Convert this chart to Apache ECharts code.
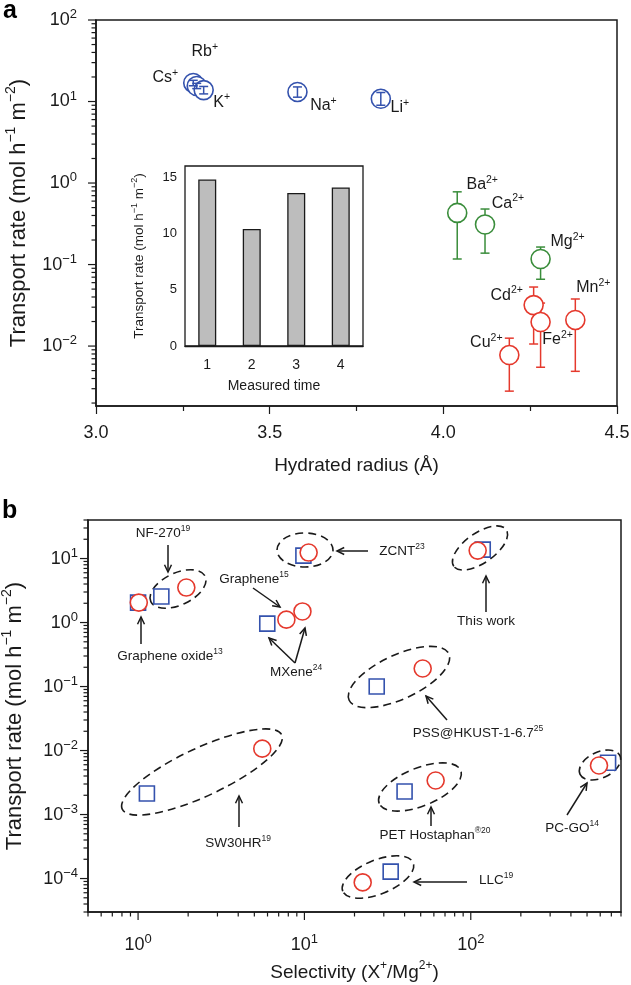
<!DOCTYPE html>
<html>
<head>
<meta charset="utf-8">
<script src="https://cdn.jsdelivr.net/npm/echarts@6.0.0/dist/echarts.min.js"></script>
<style>html,body{margin:0;padding:0;background:#fff}#c{width:631px;height:985px}</style>
</head>
<body>
<div id="c"></div>
<script>
// ================= DATA =================
// Panel a: hydrated radius (Å) vs transport rate (mol h-1 m-2)
const monoIons   = ['Cs', 'Rb', 'K', 'Na', 'Li'];
const monoRadius = [3.28, 3.29, 3.31, 3.58, 3.82];
const monoRate   = [16.9, 15.5, 13.8, 13.1, 10.8];
const monoLow    = [15.6, 14.4, 12.4, 11.3, 9.0];
const monoHigh   = [18.2, 16.7, 15.3, 15.1, 12.9];

const alkEarthIons   = ['Ba', 'Ca', 'Mg'];
const alkEarthRadius = [4.04, 4.12, 4.28];
const alkEarthRate   = [0.43, 0.31, 0.117];
const alkEarthLow    = [0.117, 0.138, 0.066];
const alkEarthHigh   = [0.78, 0.48, 0.164];

const transIons   = ['Cd', 'Fe', 'Mn', 'Cu'];
const transRadius = [4.26, 4.28, 4.38, 4.19];
const transRate   = [0.0318, 0.0197, 0.0209, 0.00776];
const transLow    = [0.0106, 0.0055, 0.0049, 0.0028];
const transHigh   = [0.053, 0.0337, 0.0378, 0.0125];

// Inset of panel a
const measuredTimes = ['1', '2', '3', '4'];
const insetRates    = [14.8, 10.4, 13.6, 14.1];

// Panel b: selectivity (X+/Mg2+) vs transport rate
const squareSources     = ['Graphene oxide', 'NF-270', 'MXene', 'ZCNT', 'This work', 'PSS@HKUST-1-6.7', 'SW30HR', 'PET Hostaphan', 'LLC', 'PC-GO'];
const squareSelectivity = [1.0, 1.38, 5.98, 9.86, 118, 27.2, 1.13, 40, 33.0, 669];
const squareRate        = [2.05, 2.55, 0.96, 11.1, 13.8, 0.1, 0.00213, 0.00229, 1.28e-4, 0.00646];
const circleSources     = ['Graphene oxide', 'NF-270', 'Graphene', 'MXene', 'ZCNT', 'This work', 'PSS@HKUST-1-6.7', 'SW30HR', 'PET Hostaphan', 'LLC', 'PC-GO'];
const circleSelectivity = [1.01, 1.95, 7.79, 9.73, 10.6, 110, 51.4, 5.58, 61.5, 22.4, 590];
const circleRate        = [2.05, 3.52, 1.11, 1.49, 12.4, 13.3, 0.191, 0.0107, 0.0034, 8.7e-5, 0.00583];

// Tick labels
const aXTickLabels = ['3.0', '3.5', '4.0', '4.5'];
const aYDecades = [-2, -1, 0, 1, 2];
const bXDecades = [0, 1, 2];
const bYDecades = [-4, -3, -2, -1, 0, 1];
const insetYTicks = [0, 5, 10, 15];

// ================= STYLE / LAYOUT =================
const FONT = '"Liberation Sans", Arial, Helvetica, sans-serif';
const INK = '#1a1a1a';
const BLUE = '#3452ad', GREEN = '#3a8d3b', RED = '#e5392d';

const ionLabelOffsets = {
  Cs: [-28, -5], Rb: [8, -34], K: [18, 12], Na: [26, 14], Li: [19, 9],
  Ba: [25, -28], Ca: [23, -21], Mg: [27, -17],
  Cd: [-27, -10], Fe: [17, 18], Mn: [18, -32], Cu: [-23, -12]
};

function rich(size, supSize, lh) {
  return {
    n: {fontSize: size, lineHeight: lh, fontFamily: FONT, color: INK},
    s: {fontSize: supSize, verticalAlign: 'top', fontFamily: FONT, color: INK}
  };
}
function isPow10(v) {
  const l = Math.log10(v);
  return Math.abs(l - Math.round(l)) < 1e-7;
}
function pow10Formatter(decades) {
  return function (v) {
    if (!isPow10(v)) return '';
    const e = Math.round(Math.log10(v));
    if (decades.indexOf(e) < 0) return '';
    return '{n|10}{s|' + (e < 0 ? '\u2212' + (-e) : e) + '}';
  };
}
function logTickValues(lo, hi) {
  const out = [];
  for (let e = Math.floor(Math.log10(lo)); e <= Math.ceil(Math.log10(hi)); e++) {
    for (let k = 1; k <= 9; k++) {
      const v = k * Math.pow(10, e);
      if (v >= lo * 0.9999 && v <= hi * 1.0001) out.push(v);
    }
  }
  return out;
}
function yTickSeries(xi, yi, xFixed, vals) {
  return {
    type: 'custom', xAxisIndex: xi, yAxisIndex: yi, silent: true, clip: false, z: 10,
    data: vals.map(v => [xFixed, v]),
    renderItem: function (p, api) {
      const v = api.value(1);
      const pt = api.coord([api.value(0), v]);
      const len = isPow10(v) ? 8 : 4.5;
      return {type: 'line', shape: {x1: pt[0] - len, y1: pt[1], x2: pt[0], y2: pt[1]},
              style: {stroke: INK, lineWidth: 1.2}};
    }
  };
}
function xTickSeries(xi, yi, yFixed, vals) {
  return {
    type: 'custom', xAxisIndex: xi, yAxisIndex: yi, silent: true, clip: false, z: 10,
    data: vals.map(v => [v, yFixed]),
    renderItem: function (p, api) {
      const v = api.value(0);
      const pt = api.coord([v, api.value(1)]);
      const len = isPow10(v) ? 8 : 4.5;
      return {type: 'line', shape: {x1: pt[0], y1: pt[1], x2: pt[0], y2: pt[1] + len},
              style: {stroke: INK, lineWidth: 1.2}};
    }
  };
}
function errSeries(xs, lows, highs, color, z) {
  return {
    type: 'custom', xAxisIndex: 0, yAxisIndex: 0, silent: true, z: z,
    data: xs.map((x, i) => [x, lows[i], highs[i]]),
    encode: {x: 0, y: [1, 2]},
    renderItem: function (p, api) {
      const lo = api.coord([api.value(0), api.value(1)]);
      const hi = api.coord([api.value(0), api.value(2)]);
      const w = 4.5, st = {stroke: color, lineWidth: 1.5};
      return {type: 'group', children: [
        {type: 'line', shape: {x1: lo[0], y1: lo[1], x2: hi[0], y2: hi[1]}, style: st},
        {type: 'line', shape: {x1: lo[0] - w, y1: lo[1], x2: lo[0] + w, y2: lo[1]}, style: st},
        {type: 'line', shape: {x1: hi[0] - w, y1: hi[1], x2: hi[0] + w, y2: hi[1]}, style: st}
      ]};
    }
  };
}
function ionScatter(names, charge, xs, ys, color, z) {
  return {
    type: 'scatter', xAxisIndex: 0, yAxisIndex: 0, z: z, silent: true,
    symbol: 'circle', symbolSize: 19,
    itemStyle: {color: '#fff', borderColor: color, borderWidth: 1.6, opacity: 1},
    data: names.map((n, i) => ({
      value: [xs[i], ys[i]], name: n,
      label: {show: true, position: 'inside', offset: ionLabelOffsets[n],
              formatter: '{n|' + n + '}{s|' + charge + '}', rich: rich(16, 10.5, 21)}
    }))
  };
}

// ---- panel b annotations (pixel layout) ----
function arrow(x1, y1, x2, y2) {
  const ang = Math.atan2(y2 - y1, x2 - x1), L = 8, A = 0.45;
  const p1 = [x2 - L * Math.cos(ang - A), y2 - L * Math.sin(ang - A)];
  const p2 = [x2 - L * Math.cos(ang + A), y2 - L * Math.sin(ang + A)];
  return {type: 'group', children: [
    {type: 'line', shape: {x1: x1, y1: y1, x2: x2, y2: y2}, style: {stroke: INK, lineWidth: 1.5}},
    {type: 'polyline', shape: {points: [p1, [x2, y2], p2]}, style: {stroke: INK, lineWidth: 1.5, fill: null}}
  ]};
}
function ell(cx, cy, rx, ry, deg) {
  return {type: 'ellipse', x: cx, y: cy, rotation: deg * Math.PI / 180,
          shape: {cx: 0, cy: 0, rx: rx, ry: ry},
          style: {fill: null, stroke: INK, lineWidth: 1.6, lineDash: [8, 5]}};
}
function note(x, y, main, sup) {
  return {type: 'text', x: x, y: y, style: {
    text: '{n|' + main + '}' + (sup ? '{s|' + sup + '}' : ''),
    align: 'center', verticalAlign: 'middle',
    rich: {n: {fontSize: 13.5, lineHeight: 18, fontFamily: FONT, fill: INK},
           s: {fontSize: 8.5, verticalAlign: 'top', fontFamily: FONT, fill: INK}}
  }};
}
const annotations = [
  ell(178, 589, 30, 16, 25), ell(305, 550, 28, 17, 0), ell(480, 548, 32, 15, 35),
  ell(399, 677, 55, 22, 25), ell(202, 772, 88, 24, 25), ell(420, 787, 44, 19, 22),
  ell(378, 877, 38, 17, 22), ell(600, 765, 22, 13, 25),
  arrow(168, 545, 168, 572), arrow(141, 644, 141, 617), arrow(253, 588, 280, 607),
  arrow(295, 663, 269, 638), arrow(295, 663, 305, 628), arrow(368, 551, 337, 551),
  arrow(486, 612, 486, 576), arrow(447, 720, 426, 696), arrow(239, 827, 239, 796),
  arrow(431, 826, 431, 807), arrow(467, 882, 414, 882), arrow(567, 815, 587, 783),
  note(163, 533, 'NF-270', '19'), note(170, 656, 'Graphene oxide', '13'),
  note(254, 579, 'Graphene', '15'), note(296, 672, 'MXene', '24'),
  note(402, 551, 'ZCNT', '23'), note(486, 621, 'This work', ''),
  note(478, 733, 'PSS@HKUST-1-6.7', '25'), note(238, 843, 'SW30HR', '19'),
  note(435, 835, 'PET Hostaphan', '\u00ae20'), note(496, 880, 'LLC', '19'),
  note(572, 828, 'PC-GO', '14'),
  {type: 'text', x: 3, y: -1, style: {text: 'a', font: 'bold 25px ' + FONT, fill: '#000'}},
  {type: 'text', x: 2, y: 499, style: {text: 'b', font: 'bold 25px ' + FONT, fill: '#000'}}
];

const aYmin = 0.00184, aYmax = 100, bXmin = 0.5, bXmax = 800, bYmin = 3e-5, bYmax = 40;
const yTitle = '{n|Transport rate (mol h}{s|\u22121}{n| m}{s|\u22122}{n|)}';

const option = {
  animation: false,
  backgroundColor: '#fff',
  textStyle: {fontFamily: FONT, color: INK},
  grid: [
    {left: 96, top: 20, width: 521, height: 386, show: true, borderColor: INK, borderWidth: 1.5,
     containLabel: false, outerBoundsMode: 'none'},
    {left: 185, top: 166, width: 178, height: 180, show: true, borderColor: INK, borderWidth: 1.3,
     containLabel: false, outerBoundsMode: 'none'},
    {left: 88, top: 520, width: 533, height: 392, show: true, borderColor: INK, borderWidth: 1.5,
     containLabel: false, outerBoundsMode: 'none'}
  ],
  xAxis: [
    {gridIndex: 0, type: 'value', min: 3, max: 4.5, interval: 0.5,
     name: 'Hydrated radius (\u00c5)', nameLocation: 'middle', nameGap: 50,
     nameTextStyle: {fontSize: 19, fontFamily: FONT, color: INK},
     axisLine: {lineStyle: {color: INK, width: 1.5}},
     axisTick: {length: 8, lineStyle: {color: INK, width: 1.2}},
     minorTick: {show: true, splitNumber: 2, length: 5, lineStyle: {color: INK, width: 1.2}},
     axisLabel: {fontSize: 18, margin: 18, color: INK, fontFamily: FONT,
                 formatter: v => aXTickLabels[Math.round((v - 3) / 0.5)] || ''},
     splitLine: {show: false}},
    {gridIndex: 1, type: 'category', data: measuredTimes,
     name: 'Measured time', nameLocation: 'middle', nameGap: 33,
     nameTextStyle: {fontSize: 14, fontFamily: FONT, color: INK},
     axisLine: {lineStyle: {color: INK, width: 1.3}},
     axisTick: {length: 3, inside: true, lineStyle: {color: INK, width: 1}},
     axisLabel: {fontSize: 14, margin: 12, color: INK, fontFamily: FONT}},
    {gridIndex: 2, type: 'log', logBase: 10, min: bXmin, max: bXmax,
     name: '{n|Selectivity (X}{s|+}{n|/Mg}{s|2+}{n|)}', nameLocation: 'middle', nameGap: 48,
     nameTextStyle: {rich: rich(19, 12, 26)},
     axisLine: {lineStyle: {color: INK, width: 1.5}},
     axisTick: {show: false},
     axisLabel: {margin: 21, formatter: pow10Formatter(bXDecades), rich: rich(18, 13, 24)},
     splitLine: {show: false}, minorSplitLine: {show: false}}
  ],
  yAxis: [
    {gridIndex: 0, type: 'log', logBase: 10, min: aYmin, max: aYmax,
     name: yTitle, nameLocation: 'middle', nameGap: 62,
     nameTextStyle: {rich: rich(22, 14, 30)},
     axisLine: {lineStyle: {color: INK, width: 1.5}},
     axisTick: {show: false},
     axisLabel: {margin: 19, formatter: pow10Formatter(aYDecades), rich: rich(18, 13, 24)},
     splitLine: {show: false}, minorSplitLine: {show: false}},
    {gridIndex: 1, type: 'value', min: 0, max: 16, interval: 5,
     name: yTitle, nameLocation: 'middle', nameGap: 37,
     nameTextStyle: {rich: rich(13.5, 9, 18)},
     axisLine: {lineStyle: {color: INK, width: 1.3}},
     axisTick: {length: 4, lineStyle: {color: INK, width: 1}},
     axisLabel: {fontSize: 13, margin: 8, color: INK, fontFamily: FONT,
                 formatter: v => insetYTicks.indexOf(v) >= 0 ? String(v) : ''},
     splitLine: {show: false}},
    {gridIndex: 1, type: 'value', min: 0, max: 16, interval: 2.5, position: 'left',
     axisLine: {show: false}, axisLabel: {show: false}, splitLine: {show: false},
     axisTick: {inside: true, length: 3, lineStyle: {color: INK, width: 1}}},
    {gridIndex: 2, type: 'log', logBase: 10, min: bYmin, max: bYmax,
     name: yTitle, nameLocation: 'middle', nameGap: 58,
     nameTextStyle: {rich: rich(22, 14, 30)},
     axisLine: {lineStyle: {color: INK, width: 1.5}},
     axisTick: {show: false},
     axisLabel: {margin: 10, formatter: pow10Formatter(bYDecades), rich: rich(18, 13, 24)},
     splitLine: {show: false}, minorSplitLine: {show: false}}
  ],
  series: [
    // panel a ticks on log y axis
    yTickSeries(0, 0, 3, logTickValues(aYmin, aYmax)),
    // panel a error bars + points
    errSeries(alkEarthRadius, alkEarthLow, alkEarthHigh, GREEN, 2),
    errSeries(transRadius, transLow, transHigh, RED, 2),
    ionScatter(alkEarthIons, '2+', alkEarthRadius, alkEarthRate, GREEN, 3),
    ionScatter(transIons, '2+', transRadius, transRate, RED, 3),
    ionScatter(monoIons, '+', monoRadius, monoRate, BLUE, 3),
    errSeries(monoRadius, monoLow, monoHigh, BLUE, 4),
    // inset bars
    {type: 'bar', xAxisIndex: 1, yAxisIndex: 1, data: insetRates, barWidth: 18, silent: true,
     itemStyle: {color: '#bdbdbd', borderColor: INK, borderWidth: 1.3}},
    // panel b ticks
    yTickSeries(2, 3, bXmin, logTickValues(bYmin, bYmax)),
    xTickSeries(2, 3, bYmin, logTickValues(bXmin, bXmax)),
    // panel b points
    {type: 'scatter', name: 'squares', xAxisIndex: 2, yAxisIndex: 3, z: 3, silent: true,
     symbol: 'rect', symbolSize: 15,
     itemStyle: {color: '#fff', borderColor: BLUE, borderWidth: 1.6, opacity: 1},
     data: squareSources.map((s, i) => ({name: s, value: [squareSelectivity[i], squareRate[i]]}))},
    {type: 'scatter', name: 'circles', xAxisIndex: 2, yAxisIndex: 3, z: 4, silent: true,
     symbol: 'circle', symbolSize: 17,
     itemStyle: {color: '#fff', borderColor: RED, borderWidth: 1.6, opacity: 1},
     data: circleSources.map((s, i) => ({name: s, value: [circleSelectivity[i], circleRate[i]]}))}
  ],
  graphic: {elements: annotations}
};

const chart = echarts.init(document.getElementById('c'), null, {renderer: 'canvas', width: 631, height: 985});
chart.setOption(option);
</script>
</body>
</html>
